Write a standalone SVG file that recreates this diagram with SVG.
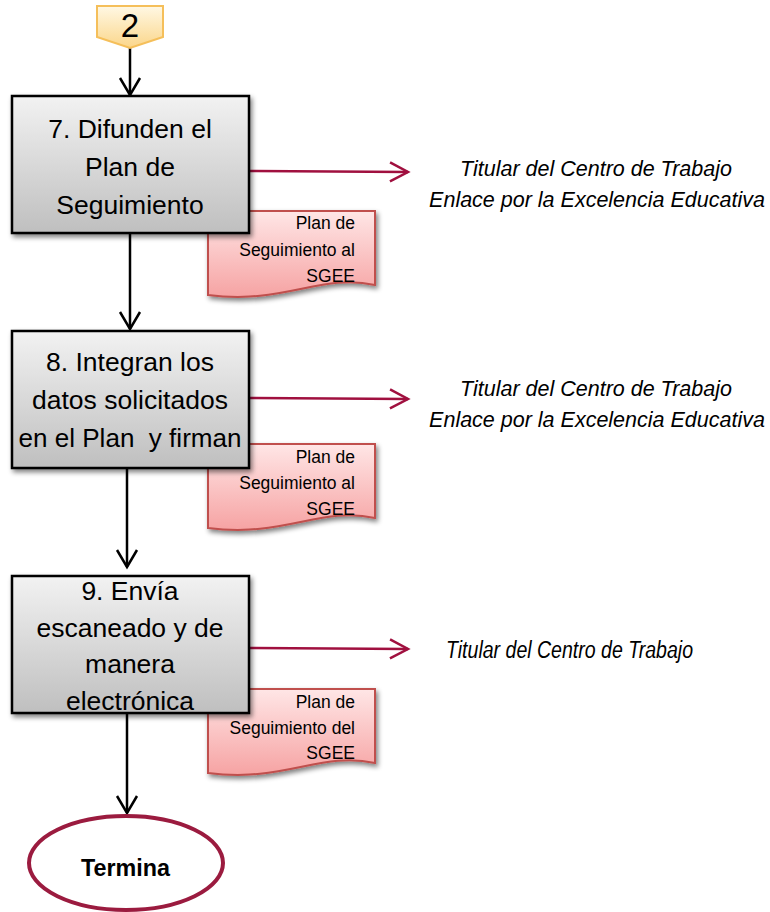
<svg xmlns="http://www.w3.org/2000/svg" width="770" height="912" viewBox="0 0 770 912">
<defs>
<linearGradient id="gBox" x1="0" y1="0" x2="0" y2="1"><stop offset="0" stop-color="#F2F2F2"/><stop offset="1" stop-color="#BFBFBF"/></linearGradient>
<linearGradient id="gDoc" x1="0" y1="0" x2="0" y2="1"><stop offset="0" stop-color="#FFE6E6"/><stop offset="1" stop-color="#F6A3A3"/></linearGradient>
<linearGradient id="gOff" x1="0" y1="0" x2="0" y2="1"><stop offset="0" stop-color="#FFF8E4"/><stop offset="1" stop-color="#FBD68A"/></linearGradient>
<filter id="sh" x="-10%" y="-10%" width="130%" height="130%"><feGaussianBlur in="SourceAlpha" stdDeviation="2.5"/><feOffset dx="2" dy="3"/><feComponentTransfer><feFuncA type="linear" slope="0.5"/></feComponentTransfer><feMerge><feMergeNode/><feMergeNode in="SourceGraphic"/></feMerge></filter>
<marker id="aBlk" markerWidth="24" markerHeight="24" refX="20" refY="12" orient="auto" markerUnits="userSpaceOnUse"><path d="M3,2 L20,12 L3,22" fill="none" stroke="#000" stroke-width="2.5"/></marker>
<marker id="aRed" markerWidth="24" markerHeight="24" refX="20" refY="12" orient="auto" markerUnits="userSpaceOnUse"><path d="M2,2.5 L20,12 L2,21.5" fill="none" stroke="#A0103F" stroke-width="2.5"/></marker>
</defs>
<style>
.box{fill:url(#gBox);stroke:#000;stroke-width:2.5;filter:url(#sh)}
.doc{fill:url(#gDoc);stroke:#C0504D;stroke-width:2;filter:url(#sh)}
.bt{font-family:"Liberation Sans",Arial,sans-serif;font-size:26.5px;fill:#000;text-anchor:middle}
.dt{font-family:"Liberation Sans",Arial,sans-serif;font-size:17.5px;fill:#000;text-anchor:end}
.rt{font-family:"Liberation Sans",Arial,sans-serif;font-size:21.5px;font-style:italic;fill:#000;text-anchor:middle}
.ln{stroke:#000;stroke-width:2.5;fill:none;marker-end:url(#aBlk)}
.rl{stroke:#A0103F;stroke-width:2.5;fill:none;marker-end:url(#aRed)}
</style>

<g id="connectors">
<line class="ln" x1="130" y1="48" x2="130" y2="95"/>
<line class="ln" x1="130" y1="233" x2="130" y2="329"/>
<line class="ln" x1="127" y1="468" x2="127" y2="567"/>
<line class="ln" x1="127" y1="713" x2="127" y2="813"/>
<line class="rl" x1="249" y1="171" x2="408" y2="172"/>
<line class="rl" x1="249" y1="398" x2="408" y2="399"/>
<line class="rl" x1="249" y1="648" x2="408" y2="649"/>
</g>

<g id="offpage2">
<path d="M97,6 H163 V37 L130,48 L97,37 Z" fill="url(#gOff)" stroke="#F5BF5A" stroke-width="2"/>
<text x="130" y="37" font-family="Liberation Sans,Arial,sans-serif" font-size="33" text-anchor="middle" fill="#000">2</text>
</g>

<g id="doc7">
<path class="doc" d="M208,211 H375 V285 C320,273 285,305 208,295 Z"/>
<text class="dt" x="355" y="229">Plan de</text>
<text class="dt" x="355" y="256">Seguimiento al</text>
<text class="dt" x="355" y="282">SGEE</text>
</g>
<g id="doc8">
<path class="doc" d="M208,444 H375 V518 C320,506 285,538 208,528 Z"/>
<text class="dt" x="355" y="463">Plan de</text>
<text class="dt" x="355" y="489">Seguimiento al</text>
<text class="dt" x="355" y="515">SGEE</text>
</g>
<g id="doc9">
<path class="doc" d="M208,689 H375 V763 C320,751 285,783 208,773 Z"/>
<text class="dt" x="355" y="708">Plan de</text>
<text class="dt" x="355" y="734">Seguimiento del</text>
<text class="dt" x="355" y="759">SGEE</text>
</g>

<g id="step7">
<rect class="box" x="12" y="96" width="237" height="137"/>
<text class="bt" x="130" y="138">7. Difunden el</text>
<text class="bt" x="130" y="176">Plan de</text>
<text class="bt" x="130" y="214">Seguimiento</text>
</g>
<g id="resp7">
<text class="rt" x="596" y="176">Titular del Centro de Trabajo</text>
<text class="rt" x="597" y="207">Enlace por la Excelencia Educativa</text>
</g>

<g id="step8">
<rect class="box" x="12" y="331" width="237" height="137"/>
<text class="bt" x="130" y="371">8. Integran los</text>
<text class="bt" x="130" y="409">datos solicitados</text>
<text class="bt" x="130" y="447" xml:space="preserve" textLength="223" lengthAdjust="spacingAndGlyphs">en el Plan  y firman</text>
</g>
<g id="resp8">
<text class="rt" x="596" y="396">Titular del Centro de Trabajo</text>
<text class="rt" x="597" y="427">Enlace por la Excelencia Educativa</text>
</g>

<g id="step9">
<rect class="box" x="12" y="576" width="237" height="137"/>
<text class="bt" x="130" y="600">9. Envía</text>
<text class="bt" x="130" y="637">escaneado y de</text>
<text class="bt" x="130" y="673">manera</text>
<text class="bt" x="130" y="710">electrónica</text>
</g>
<g id="resp9">
<text x="446" y="658" font-family="Liberation Sans,Arial,sans-serif" font-size="23" font-style="italic" textLength="247" lengthAdjust="spacingAndGlyphs">Titular del Centro de Trabajo</text>
</g>

<g id="termina">
<ellipse cx="126" cy="863" rx="97" ry="47" fill="#FFFFFF" stroke="#9B1B3F" stroke-width="4"/>
<text x="125.5" y="876" font-family="Liberation Sans,Arial,sans-serif" font-size="24" font-weight="bold" text-anchor="middle" textLength="89" lengthAdjust="spacingAndGlyphs">Termina</text>
</g>
</svg>
